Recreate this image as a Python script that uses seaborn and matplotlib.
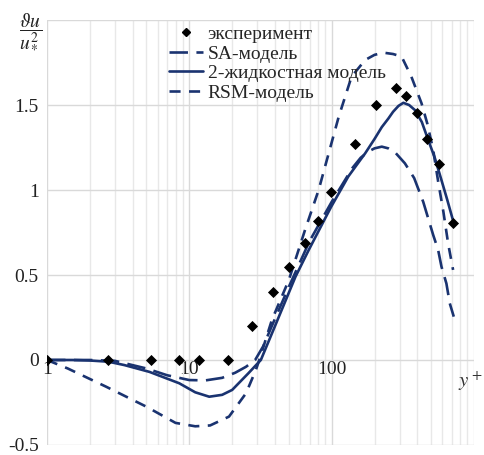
import numpy as np
import pandas as pd
import matplotlib
matplotlib.use("Agg")
import matplotlib.pyplot as plt
from matplotlib.lines import Line2D
import seaborn as sns

# ---- data ----
exp_x = [1, 2.67, 5.4, 8.4, 11.6, 18.7, 27.5, 38.5, 50.5, 65, 80, 99.5, 145, 205, 282, 333, 395, 471, 566, 713]
exp_y = [0, 0, 0, 0, 0, 0, 0.2, 0.40, 0.545, 0.69, 0.82, 0.99, 1.27, 1.50, 1.60, 1.553, 1.455, 1.30, 1.153, 0.804]

two_x = [1, 1.5, 2, 2.7, 3.5, 5.25, 8.5, 11, 13.8, 17, 20, 26, 31.8, 40, 55.7, 69, 99, 131, 172, 200, 225, 250, 270, 295, 319, 350, 385, 430, 477, 530, 590, 650, 713]
two_y = [0, 0, -0.003, -0.01, -0.03, -0.07, -0.137, -0.19, -0.216, -0.205, -0.176, -0.078, 0, 0.2, 0.49, 0.647, 0.90, 1.08, 1.216, 1.30, 1.37, 1.42, 1.46, 1.495, 1.513, 1.50, 1.47, 1.40, 1.294, 1.19, 1.06, 0.94, 0.82]

sa_x = [1, 2, 3, 5, 7, 10, 13, 17, 21, 25, 29, 33, 38, 50, 70, 100, 140, 160, 180, 200, 225, 250, 280, 327, 380, 440, 517, 560, 591, 640, 676, 721]
sa_y = [0, 0, -0.005, -0.05, -0.09, -0.118, -0.12, -0.105, -0.075, -0.04, 0, 0.08, 0.2, 0.43, 0.70, 0.93, 1.13, 1.19, 1.225, 1.245, 1.255, 1.245, 1.22, 1.157, 1.07, 0.93, 0.735, 0.647, 0.549, 0.45, 0.333, 0.255]

rsm_x = [1, 1.4, 2.6, 5, 8, 11, 14, 19, 25, 29.3, 31, 38, 50, 65, 81, 112, 138, 172, 200, 231, 270, 310, 363, 428, 470, 517, 560, 610, 658, 713]
rsm_y = [0, -0.05, -0.157, -0.275, -0.37, -0.39, -0.385, -0.333, -0.196, -0.06, 0, 0.235, 0.47, 0.765, 1.0, 1.43, 1.667, 1.765, 1.795, 1.808, 1.80, 1.785, 1.667, 1.51, 1.39, 1.235, 1.05, 0.87, 0.686, 0.53]

labels = ["эксперимент", "SA-модель", "2-жидкостная модель", "RSM-модель"]
y_ticks = [-0.5, 0, 0.5, 1, 1.5, 2.0]
y_ticklabels = ["-0.5", "0", "0.5", "1", "1.5", ""]
x_ticks = [1, 10, 100]
x_ticklabels = ["1", "10", "100"]

# ---- style ----
sns.set_theme(style="white")
plt.rcParams["font.family"] = ["Liberation Serif", "DejaVu Serif"]
plt.rcParams["mathtext.fontset"] = "stix"

navy = "#1a3370"
lw = 1.9

fig = plt.figure(figsize=(4.85, 4.55), dpi=100)
ax = fig.add_axes([0.0969, 0.022, 0.8804, 0.934])
ax.set_axisbelow(True)

sns.lineplot(x=sa_x, y=sa_y, ax=ax, color=navy, lw=lw, sort=False, estimator=None,
             linestyle=(0, (7, 3.2)))
sns.lineplot(x=two_x, y=two_y, ax=ax, color=navy, lw=lw, sort=False, estimator=None)
sns.lineplot(x=rsm_x, y=rsm_y, ax=ax, color=navy, lw=lw, sort=False, estimator=None,
             linestyle=(0, (4.2, 3.2)))
sns.scatterplot(x=exp_x, y=exp_y, ax=ax, marker="D", s=32, color="black",
                edgecolor="black", linewidth=0, zorder=5)

ax.set_xscale("log")
ax.set_xlim(1, 1000)
ax.set_ylim(-0.5, 2.0)

ax.set_yticks(y_ticks)
ax.set_yticklabels(y_ticklabels)
ax.set_xticks(x_ticks)
ax.set_xticklabels(x_ticklabels)
minor = [m * 10 ** k for k in range(3) for m in range(2, 10)] + [1000]
ax.set_xticks(minor, minor=True)
ax.xaxis.set_minor_formatter(matplotlib.ticker.NullFormatter())

for s in ax.spines.values():
    s.set_visible(False)
ax.spines["bottom"].set_position(("data", 0))

ax.grid(True, which="major", axis="both", color="#d9d9d9", lw=1.0)
ax.grid(True, which="minor", axis="x", color="#e8e8e8", lw=1.0)
ax.tick_params(axis="both", which="both", length=0, labelsize=14, colors="#222222")
ax.tick_params(axis="x", pad=1)
ax.tick_params(axis="y", pad=6)
ax.set_xlabel("")
ax.set_ylabel("")

fig.text(0.063, 0.933, r"$\dfrac{\vartheta u}{u_*^2}$", fontsize=14,
         ha="center", va="center", color="#222222")
fig.text(0.945, 0.163, r"$y^+$", fontsize=15, ha="left", va="center", color="#333333")

handles = [
    Line2D([], [], marker="D", color="black", linestyle="none", markersize=4.5),
    Line2D([], [], color=navy, lw=lw, linestyle=(0, (7, 3.2))),
    Line2D([], [], color=navy, lw=lw),
    Line2D([], [], color=navy, lw=lw, linestyle=(0, (4.2, 3.2))),
]
ax.legend(handles, labels, loc="upper left", bbox_to_anchor=(0.348, 0.944),
          bbox_transform=fig.transFigure, frameon=False, fontsize=14,
          handlelength=1.75, handletextpad=0.25, labelspacing=0.1,
          borderpad=0, borderaxespad=0)

fig.savefig("out.png", dpi=100)
